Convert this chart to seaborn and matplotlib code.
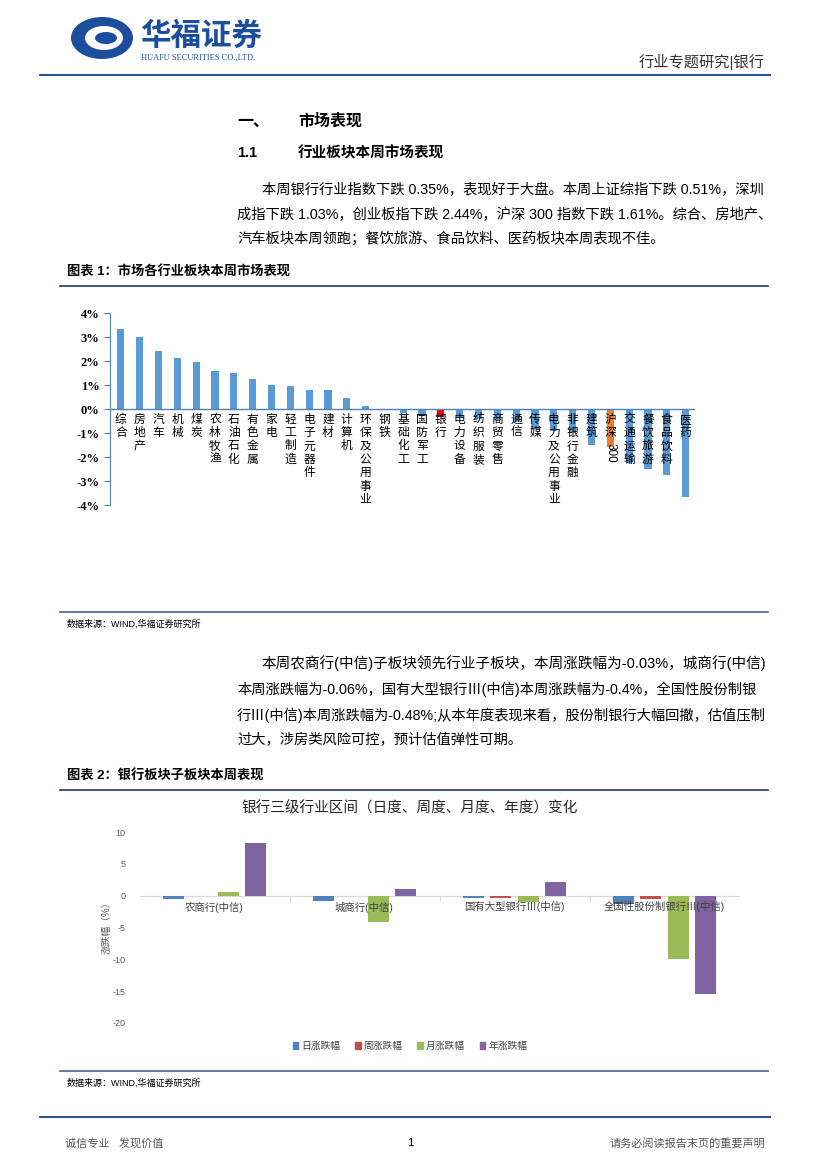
import numpy as np
import pandas as pd
import seaborn as sns
import matplotlib.pyplot as plt
from matplotlib.lines import Line2D
from matplotlib.patches import Patch, Ellipse

# chart 1: weekly change of each sector (%)
sectors = ['综合', '房地产', '汽车', '机械', '煤炭', '农林牧渔', '石油石化', '有色金属',
           '家电', '轻工制造', '电子元器件', '建材', '计算机', '环保及公用事业', '钢铁',
           '基础化工', '国防军工', '银行', '电力设备', '纺织服装', '商贸零售', '通信',
           '传媒', '电力及公用事业', '非银行金融', '建筑', '沪深300', '交通运输',
           '餐饮旅游', '食品饮料', '医药']
sector_chg = [3.32, 3.02, 2.43, 2.13, 1.94, 1.60, 1.52, 1.26, 1.01, 0.97, 0.81, 0.81,
              0.46, 0.13, -0.01, -0.15, -0.31, -0.35, -0.35, -0.42, -0.45, -0.56,
              -0.84, -0.91, -0.98, -1.50, -1.58, -2.27, -2.50, -2.76, -3.65]
y1_ticks = [4, 3, 2, 1, 0, -1, -2, -3, -4]

# chart 2: bank sub-sectors
sub_names = ['农商行(中信)', '城商行(中信)', '国有大型银行Ⅲ(中信)', '全国性股份制银行Ⅲ(中信)']
periods = ['日涨跌幅', '周涨跌幅', '月涨跌幅', '年涨跌幅']
day_chg = [-0.6, -0.8, -0.4, -1.3]
week_chg = [-0.03, -0.06, -0.4, -0.48]
month_chg = [0.5, -4.2, -1.05, -9.9]
year_chg = [8.2, 1.0, 2.2, -15.4]
y2_ticks = [10, 5, 0, -5, -10, -15, -20]

W, H = 827, 1169
plt.rcParams['font.family'] = ['Liberation Sans', 'Noto Sans CJK SC']
plt.rcParams['axes.unicode_minus'] = False

fig = plt.figure(figsize=(W / 100, H / 100), dpi=100)
fig.patch.set_facecolor('white')


def fx(x):
    return x / W


def fy(y):
    return 1 - y / H


def T(x, y, s, **kw):
    kw.setdefault('va', 'center')
    fig.text(fx(x), fy(y), s, **kw)


def hline(x0, x1, y, color='#4A5F8E', lw=1.2):
    fig.add_artist(Line2D([fx(x0), fx(x1)], [fy(y), fy(y)], color=color, lw=lw))


# header / logo
lax = fig.add_axes([fx(68), fy(62), fx(72), 48 / H])
lax.set_xlim(0, 72)
lax.set_ylim(0, 48)
lax.axis('off')
lax.add_patch(Ellipse((34, 24), 62, 42, fc='#1D4E9E', ec='none'))
lax.add_patch(Ellipse((36, 24), 38, 24, fc='white', ec='none'))
lax.add_patch(Ellipse((38, 24), 22, 12, fc='#1D4E9E', ec='none'))
T(140, 37, '华福证券', fontsize=22, color='#1D4E9E', fontweight='bold')
T(141, 58, 'HUAFU SECURITIES CO.,LTD.', fontsize=6, color='#1D4E9E', family='Liberation Serif')
T(765, 62, '行业专题研究|银行', fontsize=11, color='#333333', ha='right')
hline(40, 770, 75, color='#2F5597', lw=1.5)

# section headings
T(237, 121, '一、', fontsize=11.5, fontweight='bold')
T(298, 121, '市场表现', fontsize=11.5, fontweight='bold')
T(237, 153, '1.1', fontsize=10.5, fontweight='bold')
T(298, 153, '行业板块本周市场表现', fontsize=10.5, fontweight='bold')

para1 = ['本周银行行业指数下跌 0.35%，表现好于大盘。本周上证综指下跌 0.51%，深圳',
         '成指下跌 1.03%，创业板指下跌 2.44%，沪深 300 指数下跌 1.61%。综合、房地产、',
         '汽车板块本周领跑；餐饮旅游、食品饮料、医药板块本周表现不佳。']
for k, (line, y) in enumerate(zip(para1, [190, 215, 239])):
    T(262 if k == 0 else 237, y, line, fontsize=10.3)

T(67, 272, '图表 1：市场各行业板块本周市场表现', fontsize=9.5, fontweight='bold')
hline(60, 768, 286, color='#1F3864')

# chart 1
ax1 = fig.add_axes([fx(110), fy(505), 585 / W, 192 / H])
sns.barplot(x=sectors, y=sector_chg, hue=sectors,
            palette=['#FF0000' if s == '银行' else '#ED7D31' if s == '沪深300' else '#5B9BD5'
                     for s in sectors],
            legend=False, width=0.38, saturation=1, ax=ax1)
ax1.set_xlim(-0.58, 30.5)
ax1.set_ylim(-4, 4)
for sp in ['top', 'right', 'bottom']:
    ax1.spines[sp].set_visible(False)
ax1.spines['left'].set_color('#4F81BD')
ax1.axhline(0, color='#4F81BD', lw=1)
ax1.set_xticks([])
ax1.set_yticks(y1_ticks)
ax1.set_yticklabels([f'{t}%' for t in y1_ticks], fontsize=9, fontweight='bold',
                    family='Liberation Serif')
ax1.tick_params(axis='y', color='#4F81BD', length=4)
ax1.set_xlabel('')
ax1.set_ylabel('')
ax1.set_facecolor('none')
for i, name in enumerate(sectors):
    if name == '沪深300':
        ax1.text(i, -0.2, '沪\n深', ha='center', va='top', fontsize=8.5, linespacing=1.15)
        ax1.text(i, -1.4, '300', ha='center', va='top', fontsize=8.5, rotation=270)
    else:
        ax1.text(i, -0.2, '\n'.join(name), ha='center', va='top', fontsize=8.5,
                 linespacing=1.15)

hline(60, 768, 612)
T(67, 624, '数据来源：WIND,华福证券研究所', fontsize=6.5)

para2 = ['本周农商行(中信)子板块领先行业子板块，本周涨跌幅为-0.03%，城商行(中信)',
         '本周涨跌幅为-0.06%，国有大型银行Ⅲ(中信)本周涨跌幅为-0.4%，全国性股份制银',
         '行Ⅲ(中信)本周涨跌幅为-0.48%;从本年度表现来看，股份制银行大幅回撤，估值压制',
         '过大，涉房类风险可控，预计估值弹性可期。']
for k, (line, y) in enumerate(zip(para2, [663, 689, 715, 740])):
    T(262 if k == 0 else 237, y, line, fontsize=10.5 if k == 0 else 10.3)

T(67, 776, '图表 2：银行板块子板块本周表现', fontsize=9.5, fontweight='bold')
hline(60, 768, 790, color='#1F3864')

# chart 2
df = pd.DataFrame({'板块': sub_names * 4,
                   '周期': np.repeat(periods, 4),
                   '值': day_chg + week_chg + month_chg + year_chg})
pal2 = ['#4F81BD', '#C0504D', '#9BBB59', '#8064A2']
ax2 = fig.add_axes([fx(139.5), fy(1023), 600 / W, 191 / H])
sns.barplot(data=df, x='板块', y='值', hue='周期', palette=pal2, width=0.73, gap=0.22,
            saturation=1, ax=ax2)
ax2.legend_.remove()
ax2.set_xlim(-0.5, 3.5)
ax2.set_ylim(-20, 10)
for sp in ax2.spines.values():
    sp.set_visible(False)
ax2.axhline(0, color='#D9D9D9', lw=0.8, zorder=0)
ax2.vlines([0.5, 1.5, 2.5], -0.9, 0, color='#D9D9D9', lw=0.8)
ax2.set_xticks([])
ax2.set_yticks(y2_ticks)
ax2.set_yticklabels([str(t) for t in y2_ticks], fontsize=6.5, color='#595959')
ax2.tick_params(axis='y', length=0, pad=10)
ax2.set_xlabel('')
ax2.set_ylabel('')
ax2.set_facecolor('none')
for i, name in enumerate(sub_names):
    ax2.text(i, -0.9, name, ha='center', va='top', fontsize=7.5, color='#404040')

T(410, 808, '银行三级行业区间（日度、周度、月度、年度）变化', fontsize=10.5, ha='center',
  color='#262626')
T(107, 925, '涨跌幅（%）', fontsize=7, rotation=90, ha='center', color='#595959')
fig.legend(handles=[Patch(color=c) for c in pal2], labels=periods, loc='center',
           bbox_to_anchor=(fx(410), fy(1046)), ncol=4, frameon=False, fontsize=7,
           handlelength=0.6, handleheight=0.6, handletextpad=0.3, columnspacing=1.5,
           labelcolor='#404040')

hline(60, 768, 1071)
T(67, 1083, '数据来源：WIND,华福证券研究所', fontsize=6.5)

# footer
hline(40, 770, 1117, color='#2F5597', lw=1.5)
T(65, 1143, '诚信专业   发现价值', fontsize=8, color='#555555')
T(410, 1143, '1', fontsize=8, ha='center')
T(765, 1143, '请务必阅读报告末页的重要声明', fontsize=8, ha='right', color='#555555')

fig.savefig('out.png', dpi=100)
